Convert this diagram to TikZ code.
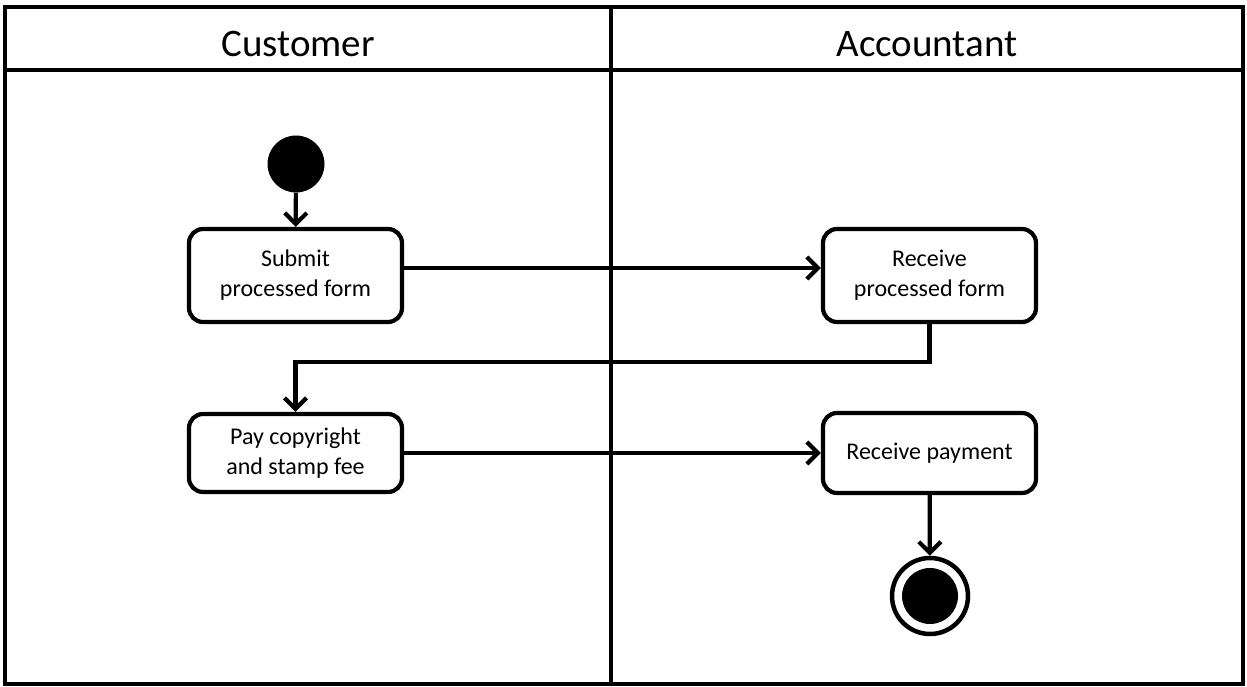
\documentclass[tikz,border=0pt]{standalone}
\usepackage{fontspec}
\setmainfont{Carlito}
\usetikzlibrary{arrows.meta,calc}
\begin{document}
\begin{tikzpicture}[x=1pt,y=-1pt,
  lane/.style={line width=3.6pt},
  head/.style={font=\fontsize{39}{44}\selectfont, anchor=base, inner sep=0pt},
  act/.style={draw, line width=4.2pt, rounded corners=14pt, minimum width=213pt, align=center, font=\fontsize{24}{30}\selectfont, inner sep=0pt, fill=white},
  flow/.style={line width=4.2pt, -{Straight Barb[length=11pt,width=22pt]}},
  startnode/.style={circle, fill=black, minimum size=57pt, inner sep=0pt},
  endnode/.style={circle, draw, line width=4.5pt, minimum size=76pt, inner sep=0pt}
]
\useasboundingbox (0,0) rectangle (1247,687);
% swimlane frame
\draw[lane] (5,7) rectangle (1243,684);
\draw[lane] (5,70) -- (1243,70);
\draw[lane] (611,7) -- (611,684);
\node[head] (hc) at (298,57) {Customer};
\node[head] (ha) at (927,57) {Accountant};
% nodes
\node[startnode] (start) at (296,164) {};
\node[act, minimum height=93pt] (submit) at (295.5,275.5) {Submit\\processed form};
\node[act, minimum height=93pt] (recvform) at (929.5,275.5) {Receive\\processed form};
\node[act, minimum height=78pt] (pay) at (295.5,453) {Pay copyright\\and stamp fee};
\node[act, minimum height=80pt] (recvpay) at (929.5,453) {Receive payment};
\node[endnode] (end) at (930,596) {};
\fill (end.center) circle (28pt);
% connectors
\draw[flow] (start) -- (submit);
\draw[flow] ([yshift=7.5pt]submit.east) -- ([yshift=7.5pt]recvform.west);
\draw[flow] (recvform.south) -- ++(0,38) -| (pay.north);
\draw[flow] (pay) -- (recvpay);
\draw[flow] (recvpay) -- (end);
\end{tikzpicture}
\end{document}
